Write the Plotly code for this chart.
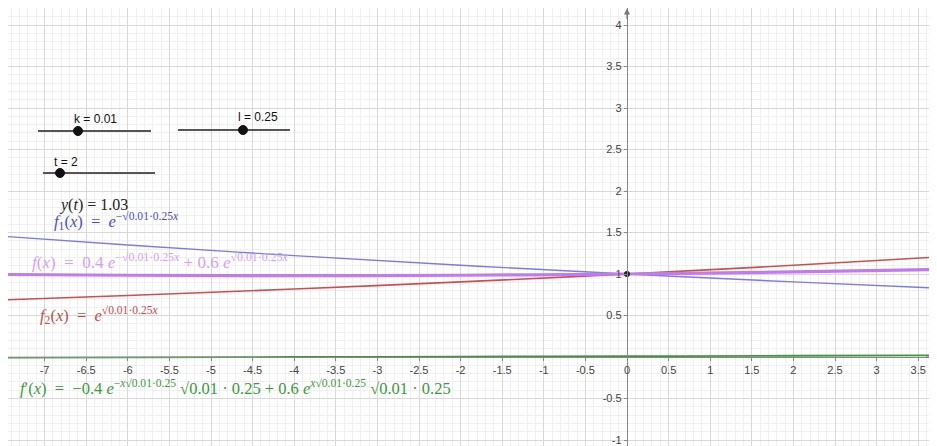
import plotly.graph_objects as go

# ---- data ----
x_pts = [-7.6, -6, -4, -2, 0, 2, 3.8]
f1_vals = [1.462, 1.350, 1.221, 1.105, 1.000, 0.905, 0.827]   # blue
f2_vals = [0.684, 0.741, 0.819, 0.905, 1.000, 1.105, 1.209]   # red
f_vals = [0.995, 0.985, 0.980, 0.985, 1.000, 1.025, 1.056]    # violet
fp_vals = [-0.0087, -0.0048, 0.0001, 0.0050, 0.0100, 0.0150, 0.0197]  # green
point_x = [0]
point_y = [1]

x_tick_vals = [-7, -6.5, -6, -5.5, -5, -4.5, -4, -3.5, -3, -2.5, -2, -1.5, -1, -0.5, 0, 0.5, 1, 1.5, 2, 2.5, 3, 3.5]
x_tick_text = ["-7", "-6.5", "-6", "-5.5", "-5", "-4.5", "-4", "-3.5", "-3", "-2.5", "-2", "-1.5", "-1", "-0.5", "0", "0.5", "1", "1.5", "2", "2.5", "3", "3.5"]
y_tick_vals = [-1, -0.5, 0.5, 1, 1.5, 2, 2.5, 3, 3.5, 4]
y_tick_text = ["-1", "-0.5", "0.5", "1", "1.5", "2", "2.5", "3", "3.5", "4"]

slider_labels = ["k = 0.01", "l = 0.25", "t = 2"]

# page body has an 8px margin: figure pixel = screen pixel - 8
OFF = 8
W, H = 937 - OFF, 446 - OFF
ORIG_X, ORIG_Y = 627, 357        # screen pixel of (0, 0)
SX, SY = 83.2, 83.0              # pixels per unit
xr = [(OFF - ORIG_X) / SX, (937 - ORIG_X) / SX]
yr = [-(446 - ORIG_Y) / SY, (ORIG_Y - OFF) / SY]

fig = go.Figure()
fig.add_trace(go.Scatter(x=x_pts, y=f2_vals, mode="lines", line=dict(color="#cc4f4f", width=1.6, shape="spline"), hoverinfo="skip"))
fig.add_trace(go.Scatter(x=x_pts, y=f1_vals, mode="lines", line=dict(color="#7b7be6", width=1.4, shape="spline"), hoverinfo="skip"))
fig.add_trace(go.Scatter(x=x_pts, y=f_vals, mode="lines", line=dict(color="#c27af0", width=3.2, shape="spline"), hoverinfo="skip"))
fig.add_trace(go.Scatter(x=x_pts, y=fp_vals, mode="lines", line=dict(color="#3a9a3a", width=1.8, shape="spline"), hoverinfo="skip"))
fig.add_trace(go.Scatter(x=point_x, y=point_y, mode="markers", marker=dict(color="#222", size=6), hoverinfo="skip"))

def px(x):
    return (x - OFF) / W

def py(y):
    return 1 - (y - OFF) / H

shapes = []
annotations = []

# sliders (UI elements, screen pixel positions)
sliders = [
    (38, 151, 131, 78, slider_labels[0], 95, 119),
    (178, 290, 130, 243, slider_labels[1], 258, 117),
    (43, 155, 173, 60, slider_labels[2], 66, 162),
]
for x0, x1, yy, xd, lab, lx, ly in sliders:
    shapes.append(dict(type="line", xref="paper", yref="paper", x0=px(x0), x1=px(x1), y0=py(yy), y1=py(yy),
                       line=dict(color="#555555", width=2.2)))
    shapes.append(dict(type="circle", xref="paper", yref="paper", x0=px(xd - 4.5), x1=px(xd + 4.5),
                       y0=py(yy + 4.5), y1=py(yy - 4.5), fillcolor="#111", line=dict(color="#111", width=1)))
    annotations.append(dict(xref="paper", yref="paper", x=px(lx), y=py(ly), text=lab, showarrow=False,
                            xanchor="center", yanchor="middle",
                            font=dict(family="Liberation Sans, Arial", size=12, color="#111")))

serif = "Liberation Serif, DejaVu Serif, serif"
texts = [
    (57, 205, "<i>y</i>(<i>t</i>) = 1.03", "#222222", 16),
    (52, 221, "<i>f</i><sub>1</sub>(<i>x</i>)  =  <i>e</i><sup>−√0.01·0.25<i>x</i></sup>", "#4a4ad8", 16.5),
    (30, 261, "<i>f</i>(<i>x</i>)  =  0.4 <i>e</i><sup>−√0.01·0.25<i>x</i></sup> + 0.6 <i>e</i><sup>√0.01·0.25<i>x</i></sup>", "#d6a0f2", 17),
    (38, 315, "<i>f</i><sub>2</sub>(<i>x</i>)  =  <i>e</i><sup>√0.01·0.25<i>x</i></sup>", "#c94848", 16.5),
    (18, 387, "<i>f</i>′(<i>x</i>)  =  −0.4 <i>e</i><sup>−<i>x</i>√0.01·0.25</sup> √0.01 · 0.25 + 0.6 <i>e</i><sup><i>x</i>√0.01·0.25</sup> √0.01 · 0.25", "#3a9a3a", 16.5),
]
for tx, ty, t, c, s in texts:
    annotations.append(dict(xref="paper", yref="paper", x=px(tx), y=py(ty), text=t, showarrow=False,
                            xanchor="left", yanchor="middle", font=dict(family=serif, size=s, color=c)))

# axis arrows
annotations.append(dict(x=0, y=yr[1] - 0.005, ax=0, ay=yr[1] - 0.15, xref="x", yref="y", axref="x", ayref="y",
                        showarrow=True, arrowhead=2, arrowsize=1, arrowwidth=1.2, arrowcolor="#777", text=""))
annotations.append(dict(x=xr[1] - 0.005, y=0, ax=xr[1] - 0.15, ay=0, xref="x", yref="y", axref="x", ayref="y",
                        showarrow=True, arrowhead=2, arrowsize=1, arrowwidth=1.2, arrowcolor="#777", text=""))

xpos = (0 - xr[0]) / (xr[1] - xr[0])
ypos = (0 - yr[0]) / (yr[1] - yr[0])

tickfont = dict(family="Liberation Sans, Arial", size=11, color="#444")
fig.update_layout(
    width=W, height=H, margin=dict(l=0, r=0, t=0, b=0, autoexpand=False),
    paper_bgcolor="white", plot_bgcolor="white", showlegend=False,
    shapes=shapes, annotations=annotations,
    xaxis=dict(range=xr, anchor="free", position=ypos, tickvals=x_tick_vals, ticktext=x_tick_text,
               automargin=False,
               showgrid=True, gridcolor="#d9d9d9", gridwidth=1,
               minor=dict(dtick=0.1, showgrid=True, gridcolor="#f0f0f0", gridwidth=1),
               showline=True, linecolor="#888", linewidth=1.3, zeroline=False,
               ticks="outside", ticklen=3, tickcolor="#888", tickfont=tickfont, fixedrange=True),
    yaxis=dict(range=yr, anchor="free", position=xpos, tickvals=y_tick_vals, ticktext=y_tick_text,
               automargin=False,
               showgrid=True, gridcolor="#d9d9d9", gridwidth=1,
               minor=dict(dtick=0.1, showgrid=True, gridcolor="#f0f0f0", gridwidth=1),
               showline=True, linecolor="#888", linewidth=1.3, zeroline=False,
               ticks="outside", ticklen=3, tickcolor="#888", tickfont=tickfont, fixedrange=True),
)

fig.write_html("out.html")
